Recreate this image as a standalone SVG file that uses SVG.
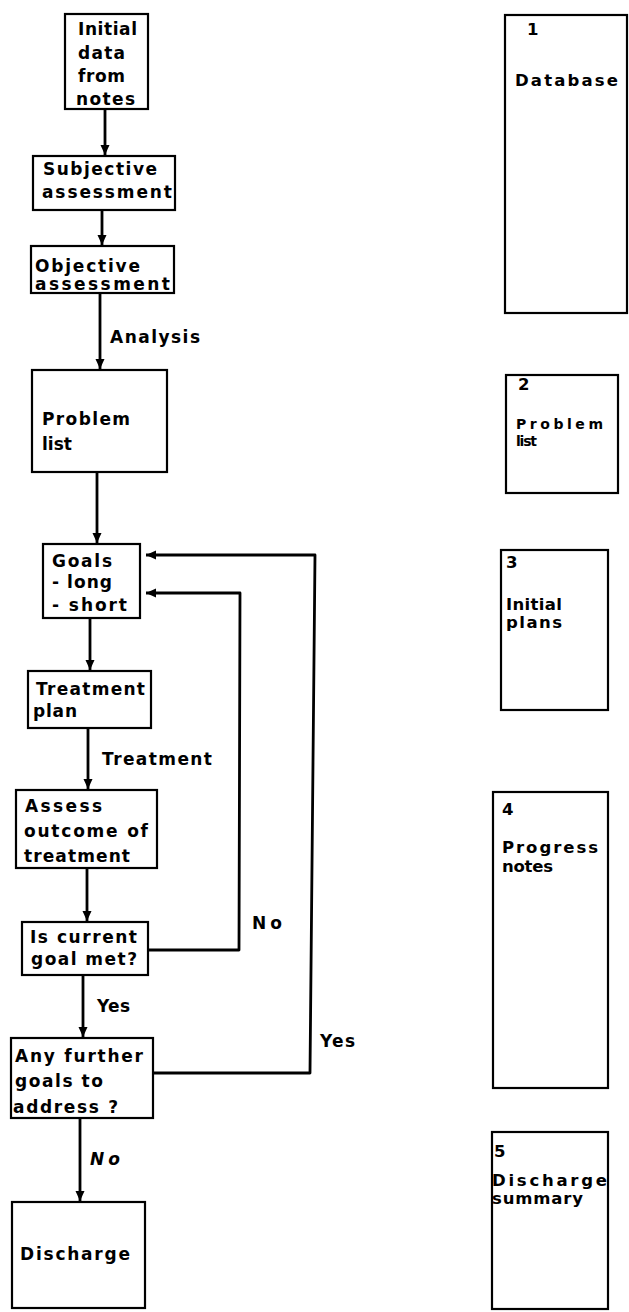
<svg xmlns="http://www.w3.org/2000/svg" width="629" height="1312" viewBox="0 0 629 1312">
<defs>
<style>
.box{fill:#fff;stroke:#000;stroke-width:2.2}
.t{font-family:"DejaVu Sans","Liberation Sans",Arial,sans-serif;font-weight:bold;font-size:17px;fill:#000}
.r{font-family:"DejaVu Sans","Liberation Sans",Arial,sans-serif;font-weight:bold;font-size:16.5px;fill:#000}
.s{font-size:14px}
.c{fill:none;stroke:#000;stroke-width:2.8;stroke-linejoin:round}
</style>
<marker id="ah" markerUnits="userSpaceOnUse" markerWidth="12" markerHeight="10" refX="10" refY="5" orient="auto">
<path d="M0,0.5 L10,5 L0,9.5 Z" fill="#000"/>
</marker>
</defs>
<rect width="629" height="1312" fill="#fff"/>

<g id="connectors">
<path class="c" d="M105,109 V155" marker-end="url(#ah)"/>
<path class="c" d="M102,210 V245" marker-end="url(#ah)"/>
<path class="c" d="M100,293 V369" marker-end="url(#ah)"/>
<path class="c" d="M97,472 V543" marker-end="url(#ah)"/>
<path class="c" d="M90,618 V670" marker-end="url(#ah)"/>
<path class="c" d="M88,728 V789" marker-end="url(#ah)"/>
<path class="c" d="M87,868 V921" marker-end="url(#ah)"/>
<path class="c" d="M83,975 V1037" marker-end="url(#ah)"/>
<path class="c" d="M80,1118 V1201" marker-end="url(#ah)"/>
<path class="c" d="M148,950 H239 L240,593 H146" marker-end="url(#ah)"/>
<path class="c" d="M153,1073 H310 L315,555 H146" marker-end="url(#ah)"/>
<text class="t" x="110" y="343" textLength="90" lengthAdjust="spacing">Analysis</text>
<text class="t" x="102" y="765" textLength="110" lengthAdjust="spacing">Treatment</text>
<text class="t" x="252" y="929" textLength="30" lengthAdjust="spacing">No</text>
<text class="t" x="97" y="1012" textLength="33" lengthAdjust="spacing">Yes</text>
<text class="t" x="320" y="1047" textLength="35" lengthAdjust="spacing">Yes</text>
<text class="t" x="90" y="1165" textLength="30" lengthAdjust="spacing" font-style="italic">No</text>
</g>

<g id="initial-data">
<rect class="box" x="65" y="14" width="83" height="95"/>
<text class="t" x="78" y="35" textLength="59" lengthAdjust="spacing">Initial</text>
<text class="t" x="78" y="59" textLength="47" lengthAdjust="spacing">data</text>
<text class="t" x="78" y="82" textLength="47" lengthAdjust="spacing">from</text>
<text class="t" x="76" y="105" textLength="59" lengthAdjust="spacing">notes</text>
</g>

<g id="subjective">
<rect class="box" x="33" y="156" width="142" height="54"/>
<text class="t" x="43" y="175" textLength="114" lengthAdjust="spacing">Subjective</text>
<text class="t" x="42" y="198" textLength="130" lengthAdjust="spacing">assessment</text>
</g>

<g id="objective">
<rect class="box" x="31" y="246" width="143" height="47"/>
<text class="t" x="35" y="272" textLength="105" lengthAdjust="spacing">Objective</text>
<text class="t" x="35" y="290" textLength="135" lengthAdjust="spacing">assessment</text>
</g>

<g id="problem-list">
<rect class="box" x="32" y="370" width="135" height="102"/>
<text class="t" x="42" y="425" textLength="88" lengthAdjust="spacing">Problem</text>
<text class="t" x="42" y="450" textLength="30" lengthAdjust="spacing">list</text>
</g>

<g id="goals">
<rect class="box" x="43" y="544" width="97" height="74"/>
<text class="t" x="52" y="567" textLength="60" lengthAdjust="spacing">Goals</text>
<text class="t" x="52" y="588" textLength="60" lengthAdjust="spacing">- long</text>
<text class="t" x="52" y="611" textLength="75" lengthAdjust="spacing">- short</text>
</g>

<g id="treatment-plan">
<rect class="box" x="28" y="671" width="123" height="57"/>
<text class="t" x="36" y="695" textLength="109" lengthAdjust="spacing">Treatment</text>
<text class="t" x="33" y="717" textLength="44" lengthAdjust="spacing">plan</text>
</g>

<g id="assess-outcome">
<rect class="box" x="16" y="790" width="141" height="78"/>
<text class="t" x="25" y="812" textLength="77" lengthAdjust="spacing">Assess</text>
<text class="t" x="24" y="837" textLength="124" lengthAdjust="spacing">outcome of</text>
<text class="t" x="24" y="862" textLength="106" lengthAdjust="spacing">treatment</text>
</g>

<g id="goal-met">
<rect class="box" x="22" y="922" width="126" height="53"/>
<text class="t" x="30" y="943" textLength="107" lengthAdjust="spacing">Is current</text>
<text class="t" x="31" y="965" textLength="106" lengthAdjust="spacing">goal met?</text>
</g>

<g id="further-goals">
<rect class="box" x="11" y="1038" width="142" height="80"/>
<text class="t" x="15" y="1062" textLength="128" lengthAdjust="spacing">Any further</text>
<text class="t" x="15" y="1087" textLength="88" lengthAdjust="spacing">goals to</text>
<text class="t" x="13" y="1113" textLength="105" lengthAdjust="spacing">address ?</text>
</g>

<g id="discharge">
<rect class="box" x="12" y="1202" width="133" height="106"/>
<text class="t" x="20" y="1260" textLength="110" lengthAdjust="spacing">Discharge</text>
</g>

<g id="database">
<rect class="box" x="505" y="15" width="122" height="298"/>
<text class="r" x="527" y="35">1</text>
<text class="r" x="515" y="86" textLength="103" lengthAdjust="spacing">Database</text>
</g>

<g id="problem-list-record">
<rect class="box" x="506" y="375" width="112" height="118"/>
<text class="r" x="518" y="390">2</text>
<text class="r s" x="516" y="429" textLength="87" lengthAdjust="spacing">Problem</text>
<text class="r s" x="516" y="446" textLength="21" lengthAdjust="spacing">list</text>
</g>

<g id="initial-plans">
<rect class="box" x="501" y="550" width="107" height="160"/>
<text class="r" x="506" y="568">3</text>
<text class="r" x="506" y="610" textLength="56" lengthAdjust="spacing">Initial</text>
<text class="r" x="506" y="628" textLength="56" lengthAdjust="spacing">plans</text>
</g>

<g id="progress-notes">
<rect class="box" x="493" y="792" width="115" height="296"/>
<text class="r" x="502" y="815">4</text>
<text class="r" x="502" y="853" textLength="96" lengthAdjust="spacing">Progress</text>
<text class="r" x="502" y="872" textLength="51" lengthAdjust="spacing">notes</text>
</g>

<g id="discharge-summary">
<rect class="box" x="492" y="1132" width="116" height="177"/>
<text class="r" x="494" y="1157">5</text>
<text class="r" x="492" y="1186" textLength="115" lengthAdjust="spacing">Discharge</text>
<text class="r" x="492" y="1204" textLength="91" lengthAdjust="spacing">summary</text>
</g>
</svg>
